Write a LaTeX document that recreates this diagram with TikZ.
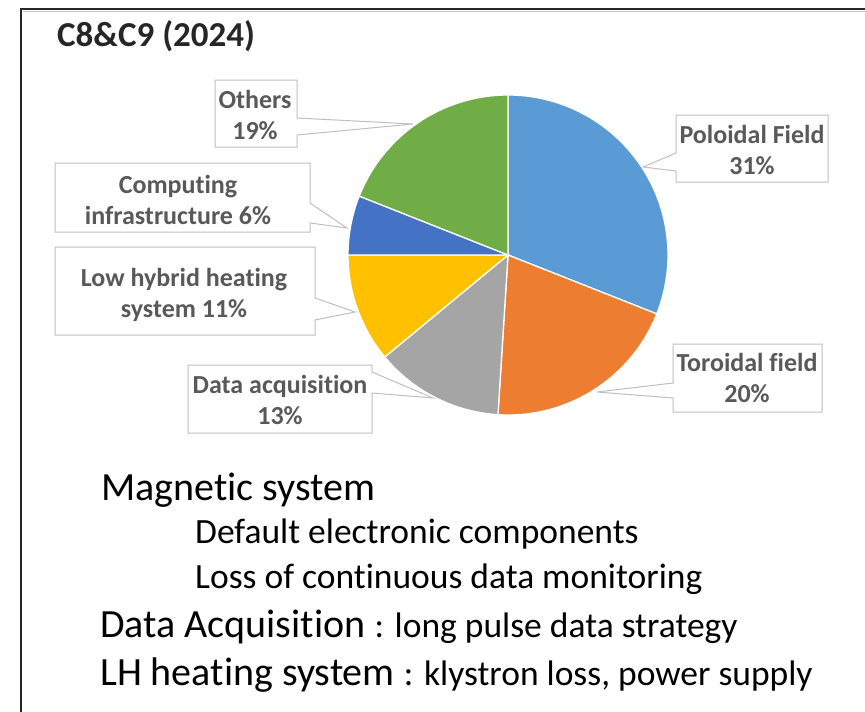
\documentclass[tikz,border=0pt]{standalone}
\usepackage{fontspec}
\setmainfont[Ligatures=NoCommon]{Carlito}
\definecolor{pfcol}{HTML}{5B9BD5}
\definecolor{tfcol}{HTML}{ED7D31}
\definecolor{dacol}{HTML}{A5A5A5}
\definecolor{lhcol}{HTML}{FFC000}
\definecolor{cicol}{HTML}{4472C4}
\definecolor{otcol}{HTML}{70AD47}
\definecolor{lbltext}{HTML}{595959}
\definecolor{lblborder}{HTML}{BFBFBF}
\definecolor{framecol}{HTML}{262626}
\definecolor{titlecol}{HTML}{262626}
\begin{document}
\begin{tikzpicture}[x=1pt,y=-1pt,
  slice/.style={draw=white, line width=1.3pt},
  callout/.style={draw=lblborder, fill=white, line width=1pt, line join=miter},
  lbl/.style={inner sep=0pt, align=center, text=lbltext, font=\bfseries\fontsize{26}{31}\selectfont},
  bigtxt/.style={inner sep=0pt, anchor=base west, font=\fontsize{40}{44}\selectfont},
  midtxt/.style={inner sep=0pt, anchor=base west, font=\fontsize{35.5}{40}\selectfont}]
\useasboundingbox (0,0) rectangle (865,712);
% frame
\draw[gray!45, line width=1pt] (23,11.5) -- (865,11.5);
\draw[framecol, line width=2pt] (21,712) -- (21,9) -- (865,9);
% title
\node[inner sep=0pt, anchor=base west, text=titlecol, font=\bfseries\fontsize{35}{38}\selectfont] (title) at (57,46) {C8\&C9 (2024)};
% pie
\begin{scope}[shift={(508,255)}, x=1pt, y=1pt]
  \coordinate (pc) at (0,0);
  \filldraw[slice, fill=pfcol] (0,0) -- (90:160) arc[start angle=90, end angle=-21.6, radius=160] -- cycle;
  \filldraw[slice, fill=tfcol] (0,0) -- (-21.6:160) arc[start angle=-21.6, end angle=-93.6, radius=160] -- cycle;
  \filldraw[slice, fill=dacol] (0,0) -- (-93.6:160) arc[start angle=-93.6, end angle=-140.4, radius=160] -- cycle;
  \filldraw[slice, fill=lhcol] (0,0) -- (-140.4:160) arc[start angle=-140.4, end angle=-180, radius=160] -- cycle;
  \filldraw[slice, fill=cicol] (0,0) -- (180:160) arc[start angle=180, end angle=158.4, radius=160] -- cycle;
  \filldraw[slice, fill=otcol] (0,0) -- (158.4:160) arc[start angle=158.4, end angle=90, radius=160] -- cycle;
\end{scope}
% callouts
\draw[callout] (676,115) -- (828,115) -- (828,182) -- (676,182) -- (676,171) -- (643,167) -- (676,153) -- cycle;
\draw[callout] (673,344) -- (822,344) -- (822,412) -- (673,412) -- (673,398) -- (597,392) -- (673,383) -- cycle;
\draw[callout] (188,365) -- (372,365) -- (372,372) -- (433,398) -- (372,393) -- (372,433) -- (188,433) -- cycle;
\draw[callout] (55,247) -- (315,247) -- (315,298) -- (355,312) -- (315,320) -- (315,335) -- (55,335) -- cycle;
\draw[callout] (55,163) -- (310,163) -- (310,203) -- (347,228) -- (310,223) -- (310,232) -- (55,232) -- cycle;
\draw[callout] (215,80) -- (297,80) -- (297,118) -- (413,124) -- (297,135) -- (297,147) -- (215,147) -- cycle;
% labels
\node[lbl] (pf) at (752,150) {Poloidal Field\\31\%};
\node[lbl] (tf) at (747,378) {Toroidal field\\20\%};
\node[lbl] (ot) at (255,114.5) {Others\\19\%};
\node[lbl] (ci) at (178,199.5) {Computing\\infrastructure 6\%};
\node[lbl] (lh) at (184,294.5) {Low hybrid heating\\system 11\%};
\node[lbl] (da) at (280,399.5) {Data acquisition\\13\%};
% bottom text
\node[bigtxt] (mag) at (101,500) {Magnetic system};
\node[midtxt] (def) at (195,543) {Default electronic components};
\node[midtxt] (loss) at (195,588) {Loss of continuous data monitoring};
\node[bigtxt] (daq) at (100,637) {Data Acquisition {\fontsize{35.5}{40}\selectfont: long pulse data strategy}};
\node[bigtxt] (lhs) at (100,685) {LH heating system {\fontsize{35.5}{40}\selectfont: klystron loss, power supply}};
\end{tikzpicture}
\end{document}
